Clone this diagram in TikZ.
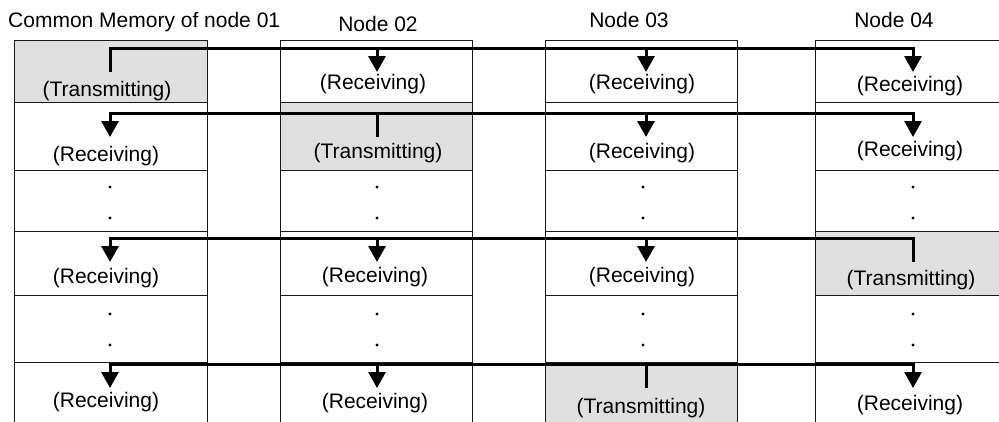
\documentclass[tikz,border=0pt]{standalone}
\usepackage{fontspec}
\setmainfont{Liberation Sans}
\usetikzlibrary{arrows.meta}
\definecolor{txgray}{RGB}{223,223,223}
\definecolor{edge}{RGB}{25,25,25}
\begin{document}
\begin{tikzpicture}[x=1pt,y=-1pt,
  cell/.style={draw=edge, line width=1pt, fill=white, inner sep=0pt, outer sep=0pt, anchor=north west},
  tx/.style={fill=txgray},
  lbl/.style={font=\fontsize{21}{25}\selectfont, anchor=base, inner sep=0pt},
  bus/.style={line width=3pt, line join=miter, draw=black},
  tipr/.style={-{Triangle[length=16pt,width=17pt]}},
  tipl/.style={{Triangle[length=16pt,width=17pt]}-},
  tipb/.style={{Triangle[length=16pt,width=17pt]}-{Triangle[length=16pt,width=17pt]}},
  dot/.style={circle, fill=black, inner sep=0pt, minimum size=3.2pt}]
\clip (0,0) rectangle (999,421);
\fill[white] (0,0) rectangle (999,421);

% ---------- column headers ----------
\node[lbl, anchor=base west] (hdr1) at (8,27) {Common Memory of node 01};
\node[lbl] (hdr2) at (378,31) {Node 02};
\node[lbl] (hdr3) at (629,27) {Node 03};
\node[lbl] (hdr4) at (894,27) {Node 04};

% ---------- memory cells ----------
% column 1
\node[cell, tx, minimum width=193pt, minimum height=62pt] (c11) at (14,40) {};
\node[cell, minimum width=193pt, minimum height=68pt] (c21) at (14,102) {};
\node[cell, minimum width=193pt, minimum height=61pt] (c31) at (14,170) {};
\node[cell, minimum width=193pt, minimum height=64pt] (c41) at (14,231) {};
\node[cell, minimum width=193pt, minimum height=67pt] (c51) at (14,295) {};
\node[cell, minimum width=193pt, minimum height=70pt] (c61) at (14,362) {};
% column 2
\node[cell, minimum width=192pt, minimum height=62pt] (c12) at (280,40) {};
\node[cell, tx, minimum width=192pt, minimum height=68pt] (c22) at (280,102) {};
\node[cell, minimum width=192pt, minimum height=61pt] (c32) at (280,170) {};
\node[cell, minimum width=192pt, minimum height=64pt] (c42) at (280,231) {};
\node[cell, minimum width=192pt, minimum height=67pt] (c52) at (280,295) {};
\node[cell, minimum width=192pt, minimum height=70pt] (c62) at (280,362) {};
% column 3
\node[cell, minimum width=192pt, minimum height=62pt] (c13) at (545,40) {};
\node[cell, minimum width=192pt, minimum height=68pt] (c23) at (545,102) {};
\node[cell, minimum width=192pt, minimum height=61pt] (c33) at (545,170) {};
\node[cell, minimum width=192pt, minimum height=64pt] (c43) at (545,231) {};
\node[cell, minimum width=192pt, minimum height=67pt] (c53) at (545,295) {};
\node[cell, tx, minimum width=192pt, minimum height=70pt] (c63) at (545,362) {};
% column 4
\node[cell, minimum width=196pt, minimum height=62pt] (c14) at (815,40) {};
\node[cell, minimum width=196pt, minimum height=68pt] (c24) at (815,102) {};
\node[cell, minimum width=196pt, minimum height=61pt] (c34) at (815,170) {};
\node[cell, tx, minimum width=196pt, minimum height=64pt] (c44) at (815,231) {};
\node[cell, minimum width=196pt, minimum height=67pt] (c54) at (815,295) {};
\node[cell, minimum width=196pt, minimum height=70pt] (c64) at (815,362) {};

% ---------- cell texts ----------
\node[lbl] (t11) at (107,96) {(Transmitting)};
\node[lbl] (t12) at (373,89) {(Receiving)};
\node[lbl] (t13) at (642,89) {(Receiving)};
\node[lbl] (t14) at (910,91) {(Receiving)};

\node[lbl] (t21) at (106,161) {(Receiving)};
\node[lbl] (t22) at (378,158) {(Transmitting)};
\node[lbl] (t23) at (642,158) {(Receiving)};
\node[lbl] (t24) at (910,156) {(Receiving)};

\node[lbl] (t41) at (106,283) {(Receiving)};
\node[lbl] (t42) at (375,282) {(Receiving)};
\node[lbl] (t43) at (642,282) {(Receiving)};
\node[lbl] (t44) at (911,285) {(Transmitting)};

\node[lbl] (t61) at (106,407) {(Receiving)};
\node[lbl] (t62) at (375,408) {(Receiving)};
\node[lbl] (t63) at (641,413) {(Transmitting)};
\node[lbl] (t64) at (910,410) {(Receiving)};

% ---------- ellipsis dots ----------
\node[dot] (d31a) at (110,187) {}; \node[dot] (d31b) at (110,218) {};
\node[dot] (d32a) at (377,187) {}; \node[dot] (d32b) at (377,218) {};
\node[dot] (d33a) at (643,187) {}; \node[dot] (d33b) at (643,218) {};
\node[dot] (d34a) at (913,187) {}; \node[dot] (d34b) at (913,218) {};
\node[dot] (d51a) at (110,314) {}; \node[dot] (d51b) at (110,345) {};
\node[dot] (d52a) at (377,314) {}; \node[dot] (d52b) at (377,345) {};
\node[dot] (d53a) at (643,314) {}; \node[dot] (d53b) at (643,345) {};
\node[dot] (d54a) at (913,314) {}; \node[dot] (d54b) at (913,345) {};

% ---------- bus junctions and ends ----------
\foreach \r/\ly in {1/48, 2/113, 3/238, 4/364} {
  \foreach \c/\cx in {1/110, 2/377, 3/646, 4/913} {
    \coordinate (j\r\c) at (\cx,\ly);
    \coordinate (e\r\c) at (\cx,\ly+24);
  }
}

% transfer 1: node 01 transmits
\draw[bus, tipr] (e11) -- (j11) -- (j14) -- (e14);
\draw[bus, tipr] (j12) -- (e12);
\draw[bus, tipr] (j13) -- (e13);

% transfer 2: node 02 transmits
\draw[bus, tipb] (e21) -- (j21) -- (j24) -- (e24);
\draw[bus] (j22) -- (e22);
\draw[bus, tipr] (j23) -- (e23);

% transfer 3: node 04 transmits
\draw[bus, tipl] (e31) -- (j31) -- (j34) -- (e34);
\draw[bus, tipr] (j32) -- (e32);
\draw[bus, tipr] (j33) -- (e33);

% transfer 4: node 03 transmits
\draw[bus, tipb] (e41) -- (j41) -- (j44) -- (e44);
\draw[bus, tipr] (j42) -- (e42);
\draw[bus] (j43) -- (e43);
\end{tikzpicture}
\end{document}
